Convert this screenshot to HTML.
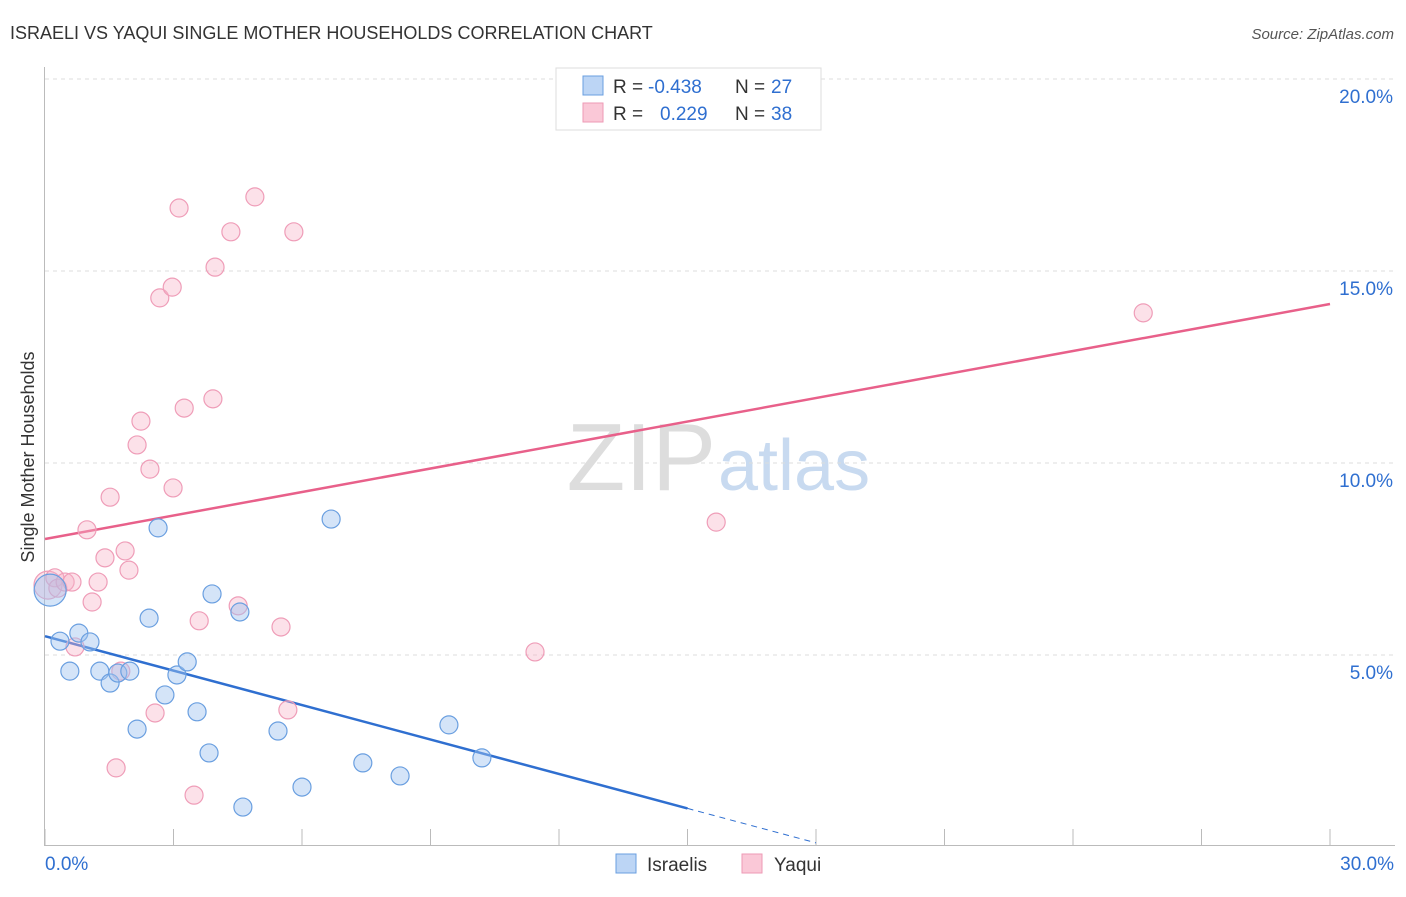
<!DOCTYPE html>
<html><head><meta charset="utf-8"><style>
body{margin:0;background:#fff;font-family:"Liberation Sans",sans-serif;}
svg text{font-family:"Liberation Sans",sans-serif;}
</style></head><body>
<svg id="c" width="1406" height="892">
<text x="10" y="39" font-size="18" fill="#333">ISRAELI VS YAQUI SINGLE MOTHER HOUSEHOLDS CORRELATION CHART</text>
<text x="1394" y="39" font-size="15" fill="#555" font-style="italic" text-anchor="end">Source: ZipAtlas.com</text>
<text x="716" y="490" font-size="96" fill="#ddd" font-family="Liberation Serif" text-anchor="end">ZIP</text>
<text x="718" y="490" font-size="72" fill="#c8daf0">atlas</text>
<text transform="translate(34,457) rotate(-90)" font-size="18" fill="#333" text-anchor="middle">Single Mother Households</text>
<g id="grid"></g><g id="ticks"></g><g id="lines"></g><g id="pts"></g>
<g>
<rect x="556" y="68" width="265" height="62" fill="#fff" stroke="#ddd"/>
<rect x="583" y="76" width="20" height="19" fill="#bcd5f5" stroke="#6a9fe0"/>
<rect x="583" y="103" width="20" height="19" fill="#fac8d7" stroke="#ee9ab5"/>
<text x="613" y="93" font-size="19" fill="#333">R =</text>
<text x="648" y="93" font-size="19" fill="#2f6fd0">-0.438</text>
<text x="735" y="93" font-size="19" fill="#333">N =</text>
<text x="771" y="93" font-size="19" fill="#2f6fd0">27</text>
<text x="613" y="120" font-size="19" fill="#333">R =</text>
<text x="660" y="120" font-size="19" fill="#2f6fd0">0.229</text>
<text x="735" y="120" font-size="19" fill="#333">N =</text>
<text x="771" y="120" font-size="19" fill="#2f6fd0">38</text>
</g>
<g>
<rect x="616" y="854" width="20" height="19" fill="#bcd5f5" stroke="#6a9fe0"/>
<text x="647" y="871" font-size="19" fill="#333">Israelis</text>
<rect x="742" y="854" width="20" height="19" fill="#fac8d7" stroke="#ee9ab5"/>
<text x="774" y="871" font-size="19" fill="#333">Yaqui</text>
</g>
</svg>
<script>
const yTicks=[5,10,15,20];
const xTickLabels=["0.0%","30.0%"];
const blueX=[0.12,0.35,0.58,0.79,1.05,1.28,1.52,1.70,1.98,2.15,2.43,2.64,2.80,3.08,3.32,3.55,3.83,3.90,4.55,4.62,5.44,6.00,6.68,7.42,8.29,9.43,10.20];
const blueY=[6.69,5.36,4.58,5.57,5.34,4.58,4.27,4.53,4.58,3.07,5.96,8.31,3.96,4.48,4.82,3.52,2.45,6.59,6.12,1.04,3.02,1.56,8.54,2.19,1.85,3.18,2.32];
const pinkX=[0.07,0.23,0.30,0.47,0.63,0.98,1.10,1.24,0.70,1.40,1.52,1.66,1.77,1.87,1.96,2.15,2.24,2.45,2.57,2.68,2.97,2.99,3.13,3.25,3.48,3.60,3.92,3.97,4.34,4.51,4.90,5.51,5.67,5.81,11.44,15.67,25.64];
const pinkY=[6.82,7.01,6.74,6.90,6.90,8.26,6.38,6.90,5.21,7.53,9.11,2.06,4.58,7.71,7.21,10.47,11.09,9.84,3.49,14.30,14.58,9.35,16.64,11.43,1.35,5.89,11.67,15.10,16.02,6.28,16.93,5.73,3.57,16.02,5.08,8.46,13.91];
const blueTrend=[5.49,-0.299];
const pinkTrend=[8.02,0.204];
const NS="http://www.w3.org/2000/svg";
const sx=v=>45+v/30*1285, sy=v=>847-v*38.4;
function mk(p,t,a){const e=document.createElementNS(NS,t);for(const k in a)e.setAttribute(k,a[k]);document.getElementById(p).appendChild(e);return e;}
yTicks.forEach(t=>{
 let l=mk('grid','line',{x1:45,x2:1395,y1:sy(t),y2:sy(t),stroke:'#ddd','stroke-dasharray':'4,4'});
 
 
 let tx=mk('grid','text',{x:1393,y:sy(t)+24,'font-size':19,fill:'#2f6fd0','text-anchor':'end'});tx.textContent=t.toFixed(1)+'%';
 
 
});
mk('grid','line',{x1:45,x2:1395,y1:79,y2:79,stroke:'#ddd','stroke-dasharray':'4,4'});
mk('ticks','line',{x1:44.5,x2:44.5,y1:67,y2:846,stroke:'#bbb'});
mk('ticks','line',{x1:45,x2:1395,y1:845.5,y2:845.5,stroke:'#bbb'});
for(let i=0;i<=10;i++){mk('ticks','line',{x1:sx(i*3),x2:sx(i*3),y1:829,y2:846,stroke:'#bbb'});}
let a=mk('ticks','text',{x:45,y:870,'font-size':19,fill:'#2f6fd0'});a.textContent=xTickLabels[0];


let b=mk('ticks','text',{x:1394,y:870,'font-size':19,fill:'#2f6fd0','text-anchor':'end'});b.textContent=xTickLabels[1];


let bl=mk('lines','line',{x1:sx(0),y1:sy(blueTrend[0]),x2:sx(15),y2:sy(blueTrend[0]+blueTrend[1]*15),stroke:'#2f6fd0','stroke-width':2.5});


mk('lines','line',{x1:sx(15),y1:sy(blueTrend[0]+blueTrend[1]*15),x2:sx(18),y2:sy(blueTrend[0]+blueTrend[1]*18),stroke:'#2f6fd0','stroke-width':1,'stroke-dasharray':'6,5'});
let pl=mk('lines','line',{x1:sx(0),y1:sy(pinkTrend[0]),x2:sx(30),y2:sy(pinkTrend[0]+pinkTrend[1]*30),stroke:'#e8608a','stroke-width':2.5});


pinkX.forEach((x,i)=>{const c=mk('pts','circle',{cx:sx(x),cy:sy(pinkY[i]),r:i==0?14:9,fill:'rgba(248,180,200,0.4)',stroke:'#ef9db8','stroke-width':1.2});
 
 });
blueX.forEach((x,i)=>{const c=mk('pts','circle',{cx:sx(x),cy:sy(blueY[i]),r:i==0?16:9,fill:'rgba(160,196,240,0.45)',stroke:'#6a9fe0','stroke-width':1.2});
 
 });
</script>
</body></html>
